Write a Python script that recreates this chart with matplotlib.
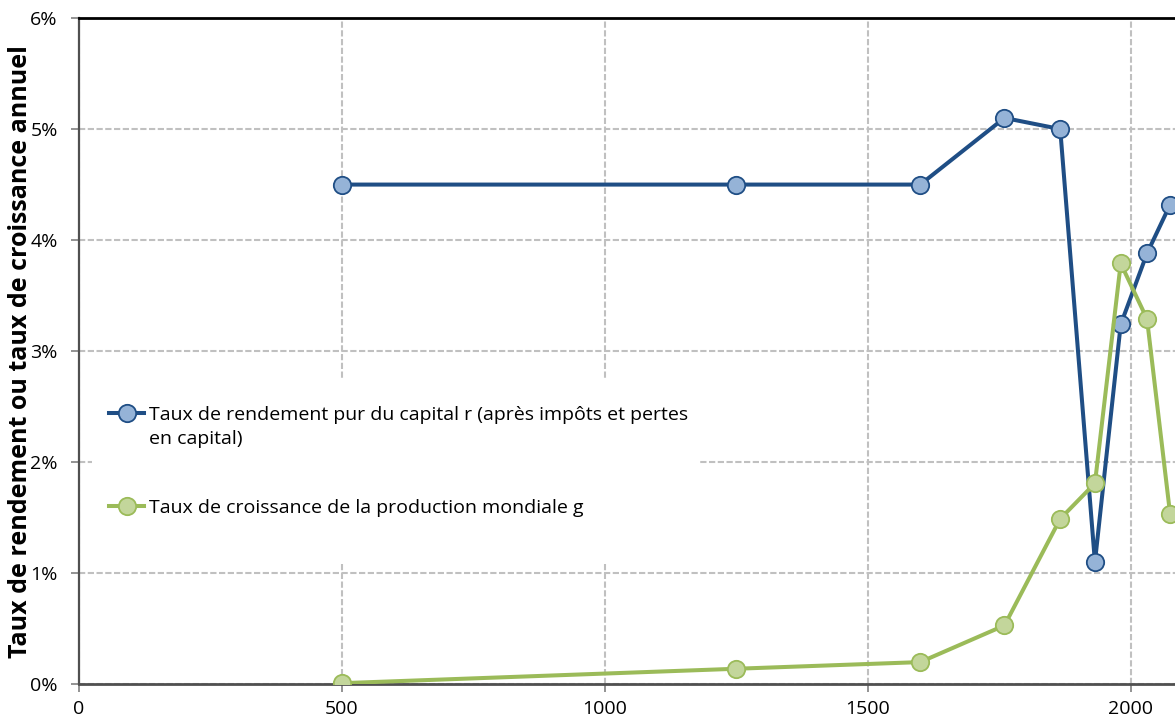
import matplotlib
matplotlib.use("Agg")
import matplotlib.pyplot as plt
import numpy as np
from matplotlib.legend_handler import HandlerLine2D
from matplotlib.patches import Rectangle
from matplotlib.ticker import FuncFormatter

# period midpoints (years)
years = [500, 1250, 1600, 1760, 1866, 1932, 1981, 2031, 2075]
# pure rate of return on capital r (after taxes and capital losses), %
r_values = [4.5, 4.5, 4.5, 5.1, 5.0, 1.1, 3.24, 3.88, 4.32]
# world output growth rate g, %
g_values = [0.01, 0.14, 0.2, 0.53, 1.49, 1.81, 3.79, 3.29, 1.53]

r_label = "Taux de rendement pur du capital r (après impôts et pertes\nen capital)"
g_label = "Taux de croissance de la production mondiale g"
y_label = "Taux de rendement ou taux de croissance annuel"
x_ticks = [0, 500, 1000, 1500, 2000]
y_ticks = [0, 1, 2, 3, 4, 5, 6]


class FirstLineHandler(HandlerLine2D):
    """Puts the legend handle next to the first line of a two-line label."""

    def __init__(self, shift, **kw):
        super().__init__(**kw)
        self.shift = shift

    def create_artists(self, legend, orig_handle, xdescent, ydescent,
                       width, height, fontsize, trans):
        artists = super().create_artists(legend, orig_handle, xdescent, ydescent,
                                         width, height, fontsize, trans)
        for a in artists:
            a.set_ydata(np.asarray(a.get_ydata()) + self.shift)
        return artists


plt.rcParams["font.family"] = ["Open Sans", "DejaVu Sans"]

W, H = 1175, 725
fig = plt.figure(figsize=(W / 100, H / 100), dpi=100)
left, bottom, top = 78.7, 684.3, 18
ax = fig.add_axes([left / W, 1 - bottom / H, (W - left) / W, (bottom - top) / H])

ax.plot(years, r_values, color="#1F4E85", linewidth=2.9, marker="o",
        markersize=12.5, markerfacecolor="#95B3D7", markeredgecolor="#1F4E85",
        markeredgewidth=1.3, label=r_label, zorder=3)
ax.plot(years, g_values, color="#9BBB59", linewidth=2.9, marker="o",
        markersize=12.5, markerfacecolor="#C3D69B", markeredgecolor="#9BBB59",
        markeredgewidth=1.3, label=g_label, zorder=3)

ax.set_xlim(0, (W - left) / 0.526)
ax.set_ylim(0, 6)
ax.set_xticks(x_ticks)
ax.set_yticks(y_ticks)
ax.yaxis.set_major_formatter(FuncFormatter(lambda v, p: f"{v:.0f}%"))

ax.grid(True, color="#C0C0C0", linestyle=(0, (3, 1.2)), linewidth=1.5)
ax.set_axisbelow(True)

ax.tick_params(axis="both", labelsize=14, color="#808080", length=6,
               width=1.2, direction="out")
ax.tick_params(axis="y", pad=9)
ax.tick_params(axis="x", pad=5)

ax.spines["right"].set_visible(False)
ax.spines["top"].set_color("black")
ax.spines["top"].set_linewidth(2)
ax.spines["left"].set_color("#505050")
ax.spines["left"].set_linewidth(1.6)
ax.spines["bottom"].set_color("#505050")
ax.spines["bottom"].set_linewidth(2)

ax.set_ylabel(y_label, fontsize=18, fontweight="bold")
ax.yaxis.set_label_coords((33 - left) / (W - left), 0.5)

# white legend area hiding the grid behind it
ax.add_patch(Rectangle((92 / W, 1 - 562 / H), (700 - 92) / W, (562 - 379) / H,
                       transform=fig.transFigure, facecolor="white",
                       edgecolor="none", zorder=2))

fs = 14
leg = ax.legend(loc="upper left", bbox_to_anchor=(92 / W, 1 - 388 / H),
                bbox_transform=fig.transFigure, fontsize=fs, frameon=False,
                handlelength=1.75, handletextpad=0.3,
                labelspacing=2.6, borderpad=0.9, borderaxespad=0,
                handler_map={ax.lines[0]: FirstLineHandler(shift=0.75 * fs)})
leg.get_texts()[0].set_linespacing(1.5)
leg.set_zorder(5)

fig.savefig("out.png", dpi=100)
